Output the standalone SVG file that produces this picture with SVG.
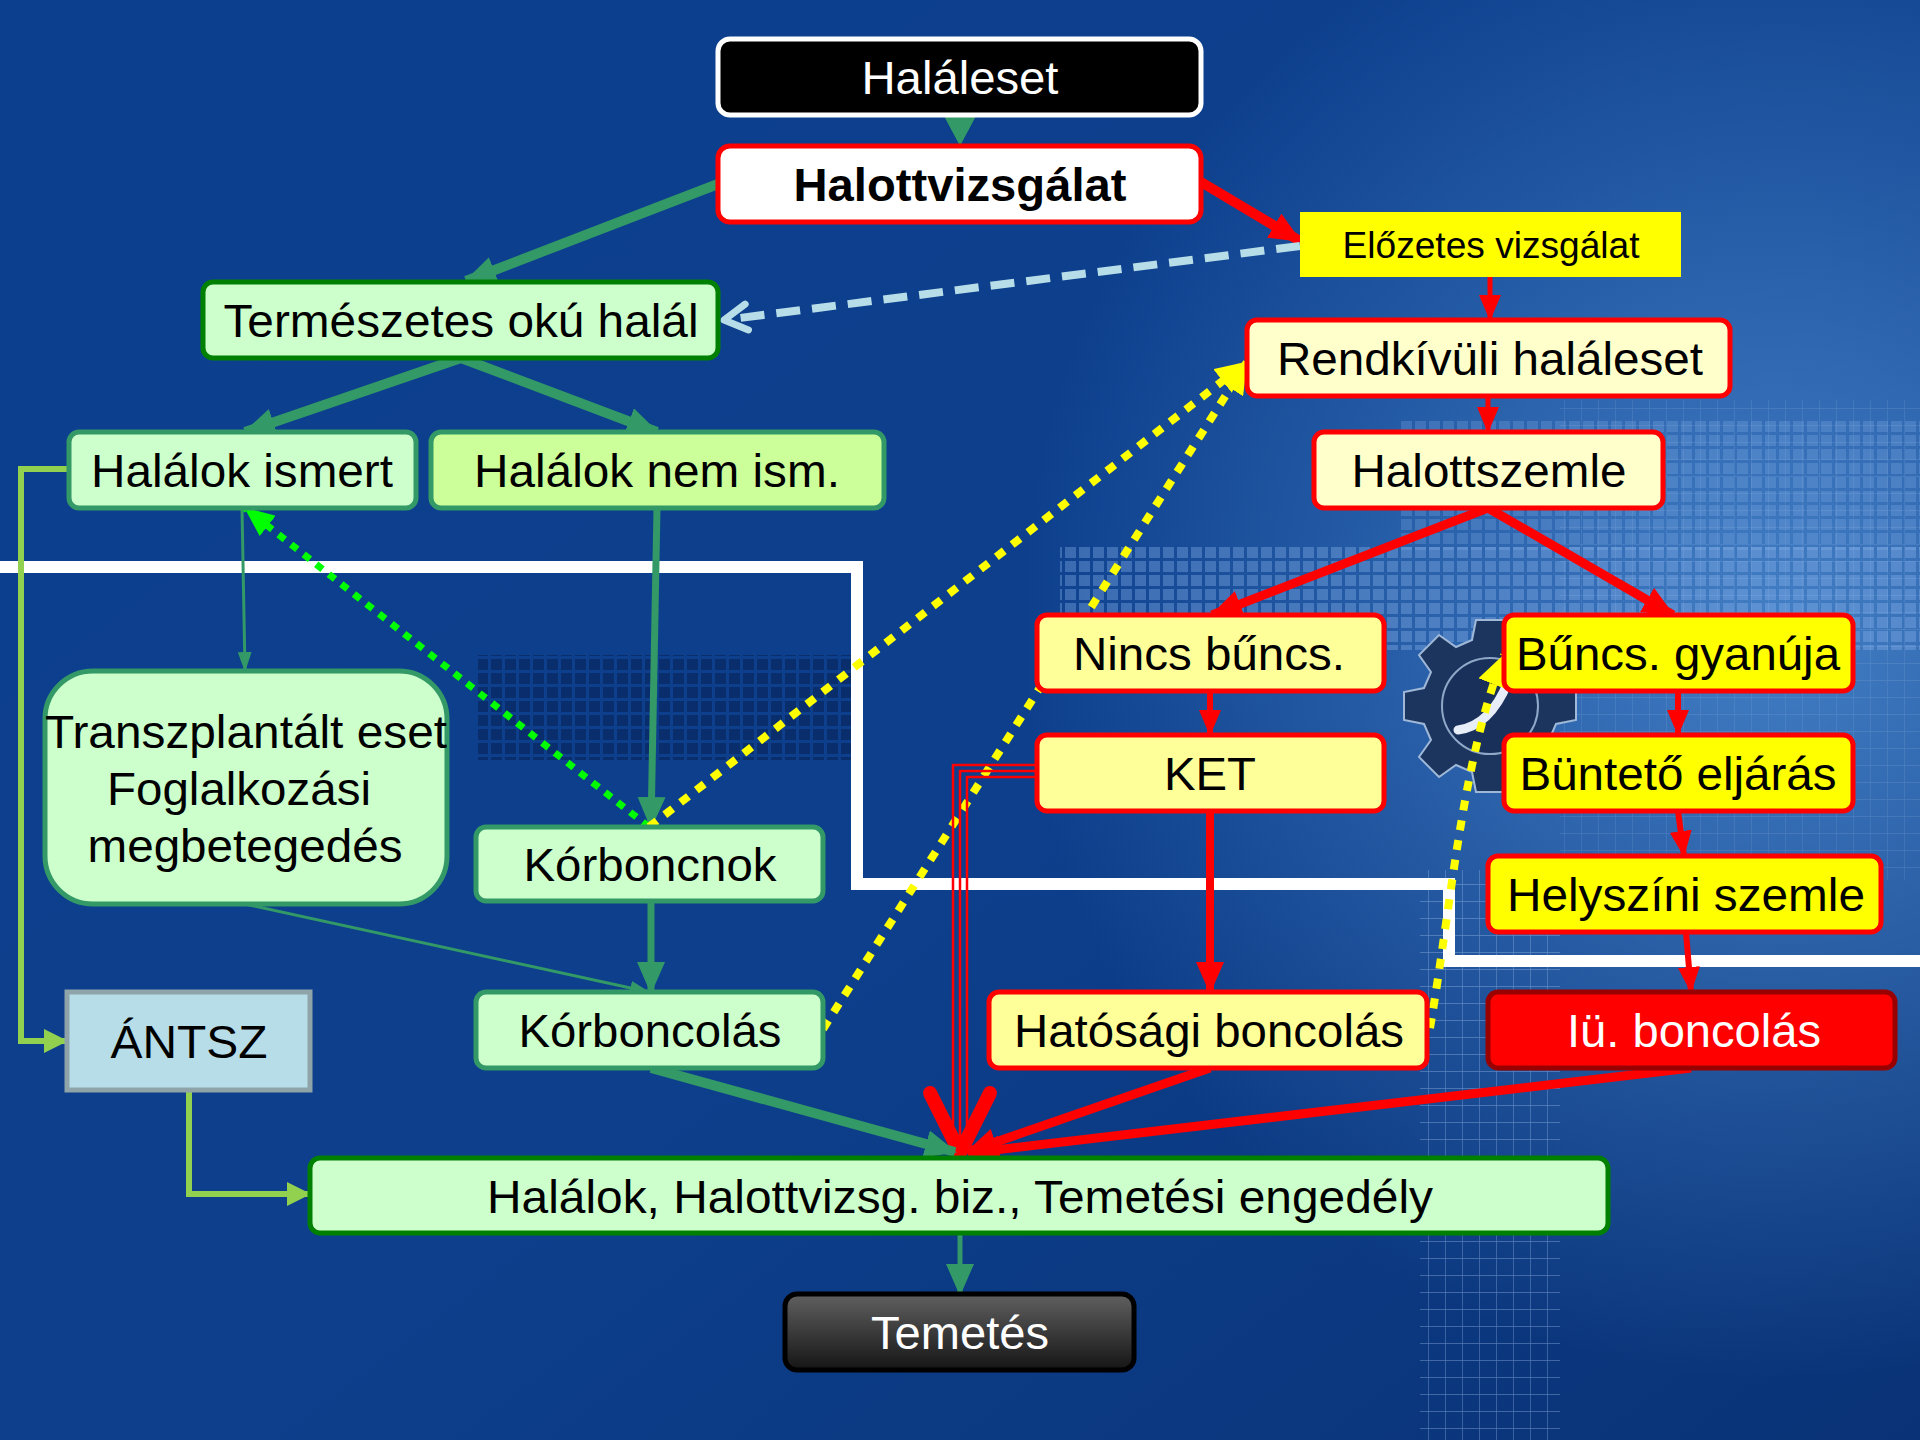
<svg xmlns="http://www.w3.org/2000/svg" width="1920" height="1440" viewBox="0 0 1920 1440">
<defs>
<style>
.t{font-family:"Liberation Sans",Arial,sans-serif;font-size:46px;text-anchor:middle;fill:#000}
.w{fill:#fff}
.b{font-weight:bold}
.box{stroke-width:5}
.gbox{fill:#ccffcc;stroke:#339966;stroke-width:5}
.rbox{stroke:#ff0000;stroke-width:5}
.g{stroke:#339966;fill:none}
.r{stroke:#ff0000;fill:none}
.lg{stroke:#92d050;fill:none;stroke-width:6}
.ydot{stroke:#ffff00;stroke-width:8;stroke-dasharray:10 10;fill:none}
</style>
<linearGradient id="bg" x1="0" y1="0" x2="1" y2="1">
<stop offset="0" stop-color="#0c3f8e"/>
<stop offset="0.55" stop-color="#0d3f8c"/>
<stop offset="1" stop-color="#0a3377"/>
</linearGradient>
<radialGradient id="hl" cx="1780" cy="620" r="760" gradientUnits="userSpaceOnUse">
<stop offset="0" stop-color="#5a9be0" stop-opacity="0.7"/>
<stop offset="1" stop-color="#5a9be0" stop-opacity="0"/>
</radialGradient>
<linearGradient id="tem" x1="0" y1="0" x2="0" y2="1">
<stop offset="0" stop-color="#606060"/>
<stop offset="1" stop-color="#151515"/>
</linearGradient>
<pattern id="grid" width="17" height="17" patternUnits="userSpaceOnUse">
<path d="M17 0H0V17" fill="none" stroke="#a9c8f2" stroke-width="1.3"/>
</pattern>
<pattern id="mos" width="14" height="14" patternUnits="userSpaceOnUse">
<rect x="1" y="1" width="11" height="11" fill="#8db6ee"/>
</pattern>
<pattern id="mosd" width="14" height="14" patternUnits="userSpaceOnUse">
<rect x="1" y="1" width="11" height="11" fill="#061a45"/>
</pattern>
<marker id="ag" markerUnits="userSpaceOnUse" viewBox="0 0 32 28" refX="30" refY="14" markerWidth="32" markerHeight="28" orient="auto"><path d="M0,0L32,14L0,28z" fill="#339966"/></marker>
<marker id="ags" markerUnits="userSpaceOnUse" viewBox="0 0 20 14" refX="19" refY="7" markerWidth="20" markerHeight="14" orient="auto"><path d="M0,0L20,7L0,14z" fill="#339966"/></marker>
<marker id="ar" markerUnits="userSpaceOnUse" viewBox="0 0 32 28" refX="30" refY="14" markerWidth="32" markerHeight="28" orient="auto"><path d="M0,0L32,14L0,28z" fill="#ff0000"/></marker>
<marker id="ars" markerUnits="userSpaceOnUse" viewBox="0 0 26 22" refX="25" refY="11" markerWidth="26" markerHeight="22" orient="auto"><path d="M0,0L26,11L0,22z" fill="#ff0000"/></marker>
<marker id="alg" markerUnits="userSpaceOnUse" viewBox="0 0 24 24" refX="23" refY="12" markerWidth="24" markerHeight="24" orient="auto"><path d="M0,0L24,12L0,24z" fill="#92d050"/></marker>
<marker id="agb" markerUnits="userSpaceOnUse" viewBox="0 0 30 26" refX="29" refY="13" markerWidth="30" markerHeight="26" orient="auto"><path d="M0,0L30,13L0,26z" fill="#00ff00"/></marker>
<marker id="ay" markerUnits="userSpaceOnUse" viewBox="0 0 32 30" refX="31" refY="15" markerWidth="32" markerHeight="30" orient="auto"><path d="M0,0L32,15L0,30z" fill="#ffff00"/></marker>
<marker id="aopen" markerUnits="userSpaceOnUse" viewBox="0 0 32 36" refX="28" refY="18" markerWidth="32" markerHeight="36" orient="auto"><path d="M5,5L28,18L5,31" fill="none" stroke="#b7dde8" stroke-width="7" stroke-linecap="round" stroke-linejoin="round"/></marker>
</defs>

<g id="background">
<rect width="1920" height="1440" fill="url(#bg)"/>
<rect width="1920" height="1440" fill="url(#hl)"/>
<rect x="1060" y="545" width="860" height="105" fill="url(#mos)" opacity="0.35"/>
<rect x="1400" y="420" width="520" height="130" fill="url(#mos)" opacity="0.25"/>
<rect x="478" y="655" width="380" height="105" fill="url(#mosd)" opacity="0.45"/>
<rect x="1420" y="870" width="140" height="570" fill="url(#grid)" opacity="0.45"/>
<rect x="1560" y="400" width="360" height="480" fill="url(#grid)" opacity="0.2"/>
<g transform="translate(1490,712)" fill="#1b355f" stroke="#9fb8d8" stroke-width="2">
<path d="M-14,-92H14L18,-72L34,-65L51,-77L71,-57L59,-40L66,-24L86,-20V8L66,12L59,28L71,45L51,65L34,53L18,60L14,80H-14L-18,60L-34,53L-51,65L-71,45L-59,28L-66,12L-86,8V-20L-66,-24L-59,-40L-71,-57L-51,-77L-34,-65L-18,-72Z"/>
<circle cx="0" cy="-6" r="48" fill="#18305a" stroke="#8fa8c8"/>
<path d="M-32,18Q0,14 18,-30" fill="none" stroke="#e8eef8" stroke-width="9" stroke-linecap="round"/>
</g>
</g>

<g id="separator">
<path d="M0,567H857V884H1449V961H1920" fill="none" stroke="#ffffff" stroke-width="12"/>
</g>

<g id="connectors">
<polygon points="944,116 976,116 960,146" fill="#339966"/>
<line class="g" x1="718" y1="184" x2="466" y2="281" stroke-width="10" marker-end="url(#ag)"/>
<line class="r" x1="1201" y1="182" x2="1300" y2="241" stroke-width="10" marker-end="url(#ar)"/>
<line x1="1300" y1="246" x2="724" y2="320" stroke="#b7dde8" stroke-width="8" stroke-dasharray="24 12" marker-end="url(#aopen)"/>
<line class="r" x1="1490" y1="277" x2="1490" y2="320" stroke-width="5" marker-end="url(#ars)"/>
<line class="g" x1="461" y1="358" x2="245" y2="432" stroke-width="10" marker-end="url(#ag)"/>
<line class="g" x1="461" y1="358" x2="657" y2="432" stroke-width="10" marker-end="url(#ag)"/>
<line class="r" x1="1488" y1="396" x2="1488" y2="432" stroke-width="5" marker-end="url(#ars)"/>
<line class="r" x1="1488" y1="508" x2="1212" y2="615" stroke-width="9" marker-end="url(#ar)"/>
<line class="r" x1="1488" y1="508" x2="1673" y2="615" stroke-width="9" marker-end="url(#ar)"/>
<line class="g" x1="242" y1="508" x2="245" y2="671" stroke-width="3" marker-end="url(#ags)"/>
<path class="lg" d="M69,469H21V1041H67" marker-end="url(#alg)"/>
<line class="g" x1="657" y1="508" x2="651" y2="827" stroke-width="7" marker-end="url(#ag)"/>
<line x1="649" y1="827" x2="245" y2="508" stroke="#00ff00" stroke-width="7" stroke-dasharray="8 8" marker-end="url(#agb)"/>
<line class="ydot" x1="649" y1="827" x2="1247" y2="362" marker-end="url(#ay)"/>
<line class="ydot" x1="823" y1="1029" x2="1247" y2="362" marker-end="url(#ay)"/>
<path class="ydot" d="M1430,1028C1452,900 1462,760 1504,655" marker-end="url(#ay)"/>
<line class="r" x1="1210" y1="691" x2="1210" y2="735" stroke-width="6" marker-end="url(#ars)"/>
<line class="r" x1="1678" y1="691" x2="1678" y2="735" stroke-width="6" marker-end="url(#ars)"/>
<line class="r" x1="1678" y1="811" x2="1684" y2="856" stroke-width="6" marker-end="url(#ars)"/>
<line class="r" x1="1686" y1="932" x2="1691" y2="992" stroke-width="6" marker-end="url(#ars)"/>
<line class="r" x1="1210" y1="811" x2="1210" y2="992" stroke-width="8" marker-end="url(#ar)"/>
<path class="r" d="M1037,765H953V1150" stroke-width="2.5"/>
<path class="r" d="M1037,771H960V1150" stroke-width="2.5"/>
<path class="r" d="M1037,777H967V1150" stroke-width="2.5"/>
<path class="r" d="M930,1093L960,1153L990,1093" stroke-width="14" stroke-linecap="round" stroke-linejoin="round"/>
<line class="g" x1="651" y1="1068" x2="955" y2="1152" stroke-width="10" marker-end="url(#ag)"/>
<line class="r" x1="1210" y1="1068" x2="967" y2="1152" stroke-width="9" marker-end="url(#ar)"/>
<line class="r" x1="1691" y1="1068" x2="970" y2="1153" stroke-width="9" marker-end="url(#ar)"/>
<line class="g" x1="245" y1="904" x2="649" y2="992" stroke-width="3" marker-end="url(#ags)"/>
<line class="g" x1="651" y1="901" x2="651" y2="992" stroke-width="7" marker-end="url(#ag)"/>
<path class="lg" d="M189,1090V1194H310" marker-end="url(#alg)"/>
<line class="g" x1="960" y1="1233" x2="960" y2="1294" stroke-width="5" marker-end="url(#ag)"/>
</g>

<g id="n-halaleset"><rect x="718" y="39" width="483" height="76" rx="12" fill="#000" stroke="#fff" class="box"/><text class="t w" x="960" y="94" textLength="197" lengthAdjust="spacingAndGlyphs">Haláleset</text></g>
<g id="n-halottvizsgalat"><rect x="718" y="146" width="483" height="76" rx="12" fill="#fff" class="rbox"/><text class="t b" x="960" y="201" textLength="333" lengthAdjust="spacingAndGlyphs">Halottvizsgálat</text></g>
<g id="n-elozetes"><rect x="1300" y="212" width="381" height="65" fill="#ffff00"/><text class="t" style="font-size:37px" x="1491" y="258" textLength="297" lengthAdjust="spacingAndGlyphs">Előzetes vizsgálat</text></g>
<g id="n-termeszetes"><rect x="203" y="282" width="515" height="76" rx="10" fill="#ccffcc" stroke="#008000" class="box"/><text class="t" x="461" y="337" textLength="475" lengthAdjust="spacingAndGlyphs">Természetes okú halál</text></g>
<g id="n-rendkivuli"><rect x="1247" y="320" width="483" height="76" rx="10" fill="#ffffcc" class="rbox"/><text class="t" x="1490" y="375" textLength="426" lengthAdjust="spacingAndGlyphs">Rendkívüli haláleset</text></g>
<g id="n-halalok-ismert"><rect x="69" y="432" width="347" height="76" rx="10" class="gbox"/><text class="t" x="242" y="487" textLength="302" lengthAdjust="spacingAndGlyphs">Halálok ismert</text></g>
<g id="n-halalok-nem"><rect x="431" y="432" width="453" height="76" rx="10" fill="#ccff99" stroke="#339966" class="box"/><text class="t" x="657" y="487" textLength="366" lengthAdjust="spacingAndGlyphs">Halálok nem ism.</text></g>
<g id="n-halottszemle"><rect x="1314" y="432" width="349" height="76" rx="10" fill="#ffffcc" class="rbox"/><text class="t" x="1489" y="487" textLength="275" lengthAdjust="spacingAndGlyphs">Halottszemle</text></g>
<g id="n-nincs"><rect x="1037" y="615" width="347" height="76" rx="10" fill="#ffff99" class="rbox"/><text class="t" x="1209" y="670" textLength="272" lengthAdjust="spacingAndGlyphs">Nincs bűncs.</text></g>
<g id="n-buncs"><rect x="1504" y="615" width="349" height="76" rx="10" fill="#ffff00" class="rbox"/><text class="t" x="1678" y="670" textLength="324" lengthAdjust="spacingAndGlyphs">Bűncs. gyanúja</text></g>
<g id="n-transz"><rect x="45" y="671" width="402" height="233" rx="48" class="gbox"/>
<text class="t" x="246" y="748" textLength="402" lengthAdjust="spacingAndGlyphs">Transzplantált eset</text>
<text class="t" x="239" y="805" textLength="264" lengthAdjust="spacingAndGlyphs">Foglalkozási</text>
<text class="t" x="245" y="862" textLength="315" lengthAdjust="spacingAndGlyphs">megbetegedés</text></g>
<g id="n-ket"><rect x="1037" y="735" width="347" height="76" rx="10" fill="#ffff99" class="rbox"/><text class="t" x="1210" y="790" textLength="92" lengthAdjust="spacingAndGlyphs">KET</text></g>
<g id="n-bunteto"><rect x="1504" y="735" width="349" height="76" rx="10" fill="#ffff00" class="rbox"/><text class="t" x="1678" y="790" textLength="317" lengthAdjust="spacingAndGlyphs">Büntető eljárás</text></g>
<g id="n-korboncnok"><rect x="476" y="827" width="347" height="74" rx="10" class="gbox"/><text class="t" x="650" y="881" textLength="253" lengthAdjust="spacingAndGlyphs">Kórboncnok</text></g>
<g id="n-helyszini"><rect x="1488" y="856" width="393" height="76" rx="10" fill="#ffff00" class="rbox"/><text class="t" x="1686" y="911" textLength="358" lengthAdjust="spacingAndGlyphs">Helyszíni szemle</text></g>
<g id="n-antsz"><rect x="67" y="992" width="243" height="98" fill="#b7dde8" stroke="#8ea4a9" class="box"/><text class="t" x="189" y="1058" textLength="157" lengthAdjust="spacingAndGlyphs">ÁNTSZ</text></g>
<g id="n-korboncolas"><rect x="476" y="992" width="347" height="76" rx="10" class="gbox"/><text class="t" x="650" y="1047" textLength="263" lengthAdjust="spacingAndGlyphs">Kórboncolás</text></g>
<g id="n-hatosagi"><rect x="989" y="992" width="438" height="76" rx="10" fill="#ffff99" class="rbox"/><text class="t" x="1209" y="1047" textLength="390" lengthAdjust="spacingAndGlyphs">Hatósági boncolás</text></g>
<g id="n-iu"><rect x="1488" y="992" width="407" height="76" rx="10" fill="#ff0000" stroke="#990000" class="box"/><text class="t w" x="1694" y="1047" textLength="254" lengthAdjust="spacingAndGlyphs">Iü. boncolás</text></g>
<g id="n-halalok-biz"><rect x="310" y="1158" width="1298" height="75" rx="10" fill="#ccffcc" stroke="#008000" class="box"/><text class="t" x="960" y="1213" textLength="946" lengthAdjust="spacingAndGlyphs">Halálok, Halottvizsg. biz., Temetési engedély</text></g>
<g id="n-temetes"><rect x="785" y="1294" width="349" height="76" rx="12" fill="url(#tem)" stroke="#000" class="box"/><text class="t w" x="960" y="1349" textLength="178" lengthAdjust="spacingAndGlyphs">Temetés</text></g>
</svg>
